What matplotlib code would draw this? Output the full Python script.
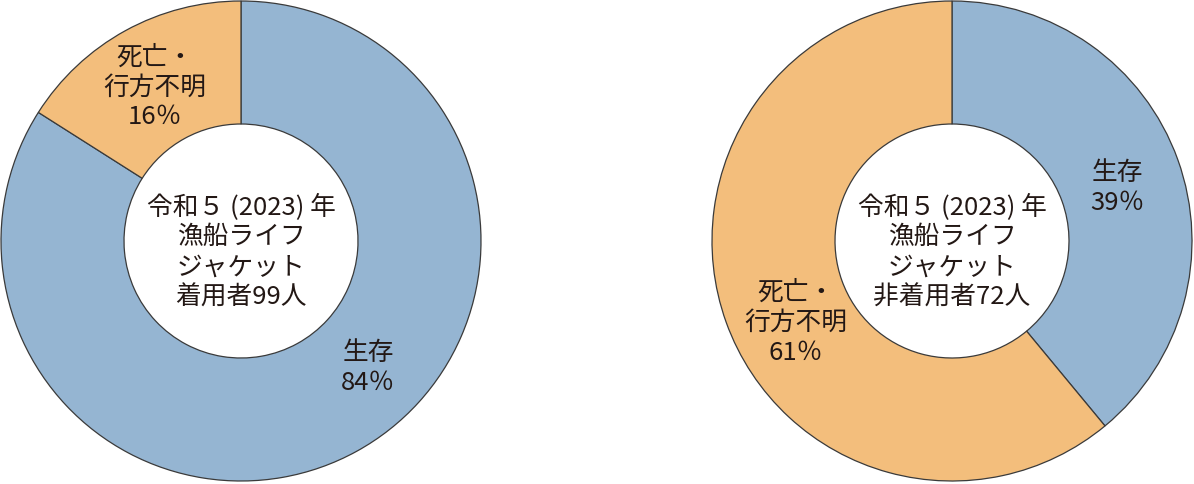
import matplotlib
matplotlib.use("Agg")
import matplotlib.pyplot as plt

plt.rcParams['font.family'] = ['Noto Sans CJK JP', 'DejaVu Sans']

# data
categories = ["生存", "死亡・\n行方不明"]
wearing = [84, 16]
not_wearing = [39, 61]
center_titles = ["令和５ (2023) 年\n漁船ライフ\nジャケット\n着用者99人",
                 "令和５ (2023) 年\n漁船ライフ\nジャケット\n非着用者72人"]

colors = ["#95b5d2", "#f3be7c"]
text_color = "#231815"

W, H = 1194, 484
fig = plt.figure(figsize=(W / 100, H / 100), dpi=100)


def donut(cx, values, title, label_pos):
    # cx = centre of donut in pixels, radius 240 px
    ax = fig.add_axes([(cx - 242) / W, (H - 241 - 242) / H, 484 / W, 484 / H])
    ax.pie(values, colors=colors, startangle=90, counterclock=False,
           radius=1.0,
           wedgeprops=dict(width=0.5125, edgecolor="#3a3a3a", linewidth=0.9))
    lim = 242 / 240
    ax.set_xlim(-lim, lim)
    ax.set_ylim(-lim, lim)
    ax.set_aspect("equal")
    ax.axis("off")
    ax.text(0, -0.045, title, ha="center", va="center", fontsize=18.5,
            color=text_color, linespacing=1.2)
    for cat, v, (x, y) in zip(categories, values, label_pos):
        ax.text(x, y, f"{cat}\n{v}％", ha="center", va="center",
                fontsize=18.5, color=text_color, linespacing=1.2)


donut(241, wearing, center_titles[0], [(0.53, -0.53), (-0.36, 0.64)])
donut(952, not_wearing, center_titles[1], [(0.69, 0.22), (-0.65, -0.34)])

fig.savefig("out.png", dpi=100)
